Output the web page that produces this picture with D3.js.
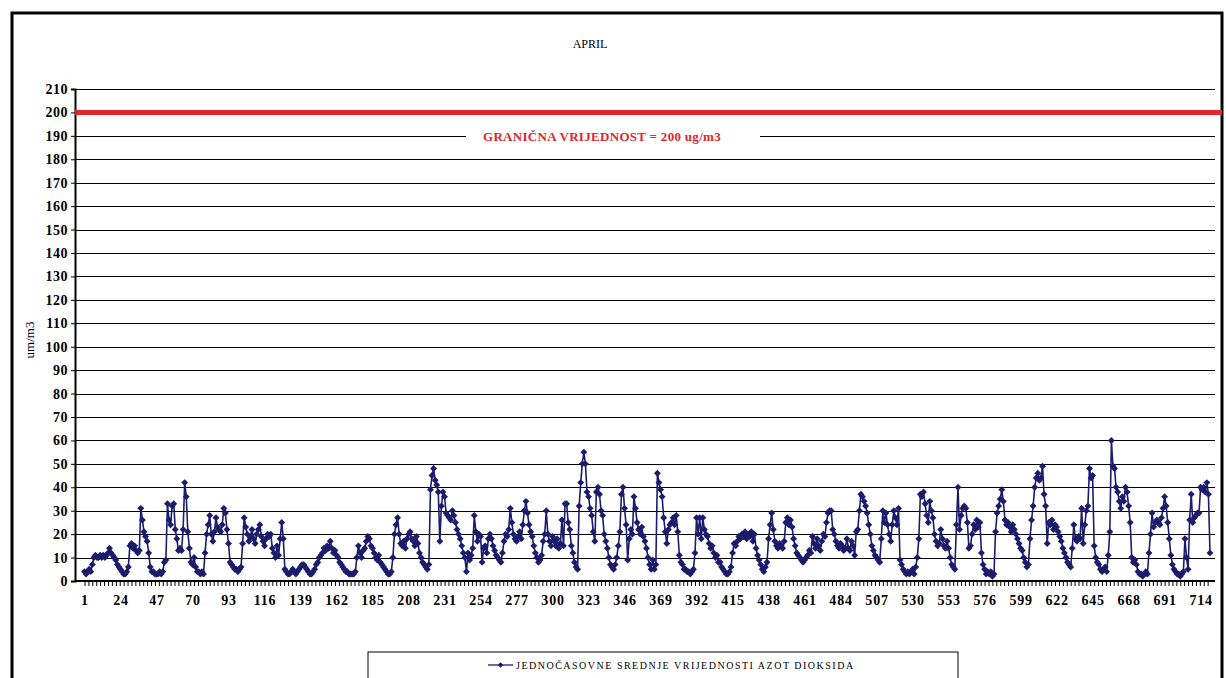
<!DOCTYPE html>
<html>
<head>
<meta charset="utf-8">
<script src="https://cdn.jsdelivr.net/npm/d3@7"></script>
<style>
body { margin: 0; background: #fff; }
svg { display: block; }
</style>
</head>
<body>
<svg width="1226" height="678"></svg>
<script>
var svg = d3.select('svg');

// hourly NO2 values, April (720 hours)
var values = [
4,3,4,5,4,7,10,11,10,10,
11,10,11,10,11,12,14,12,11,10,
9,7,6,5,4,3,3,4,6,15,
16,14,15,13,12,13,31,26,21,19,
17,12,6,4,4,3,3,3,4,3,
4,8,9,33,26,24,32,33,22,18,
13,14,13,22,42,36,21,14,8,7,
10,6,4,4,3,4,3,12,20,24,
28,20,17,21,27,23,22,21,24,31,
29,22,16,8,7,6,5,5,4,5,
6,16,27,23,20,17,19,22,18,16,
20,22,24,19,17,15,18,20,19,20,
14,12,10,15,11,18,25,18,5,4,
3,3,4,5,4,3,4,5,6,7,
7,6,5,4,3,3,4,5,7,8,
10,11,12,14,13,15,14,17,14,12,
13,11,10,8,7,6,5,4,4,3,
3,3,3,4,10,15,12,10,13,14,
17,19,18,15,14,12,10,9,11,8,
7,6,5,4,3,3,4,10,20,24,
27,20,16,15,17,14,18,20,21,18,
17,15,19,16,12,10,8,7,6,5,
7,39,45,48,43,41,38,17,32,38,
36,29,28,27,26,30,28,25,22,20,
18,15,12,10,4,12,9,11,14,28,
21,17,20,19,8,14,15,12,18,20,
18,15,13,11,10,9,8,12,17,20,
19,22,31,25,20,18,17,19,21,18,
24,30,34,29,24,21,19,15,12,10,
8,9,11,17,20,30,20,17,15,19,
17,15,18,14,16,26,15,33,33,25,
22,15,12,8,6,5,32,42,50,55,
50,38,36,31,28,21,17,38,40,37,
30,28,20,17,14,10,7,6,5,7,
10,15,21,37,40,31,24,9,18,22,
20,36,31,25,22,20,23,19,17,14,
10,7,5,9,5,7,46,42,39,36,
27,21,16,22,24,25,27,24,28,21,
11,8,7,5,5,4,4,3,4,5,
12,27,20,27,18,27,22,20,19,16,
14,15,12,10,11,8,8,6,5,4,
3,3,4,6,12,16,15,17,19,18,
20,19,21,18,20,19,21,17,20,14,
11,9,7,5,4,6,8,18,24,29,
22,17,15,14,16,15,14,17,25,27,
24,26,23,18,15,12,11,10,9,8,
9,10,11,13,12,19,16,14,18,15,
13,17,20,19,25,29,30,30,22,20,
17,15,14,16,15,13,14,18,14,13,
17,15,11,21,22,30,37,36,34,32,
29,24,20,15,13,11,10,9,8,18,
30,25,29,24,20,17,24,30,27,24,
31,9,7,5,4,3,4,3,4,5,
3,6,10,18,37,36,38,33,28,25,
34,30,27,20,17,15,16,22,18,15,
14,17,14,10,7,6,5,24,40,22,
28,31,32,31,25,14,15,20,24,22,
26,23,25,12,7,5,3,4,3,4,
2,3,21,29,32,35,39,34,26,24,
25,23,21,24,22,20,18,16,14,13,
10,8,6,7,18,26,32,40,44,46,
43,44,49,37,32,16,25,24,26,22,
24,23,21,19,17,14,12,10,8,7,
6,14,24,18,17,19,18,31,16,24,
30,32,48,44,45,15,10,8,7,5,
4,5,6,4,11,21,60,49,48,40,
38,34,31,36,34,40,38,32,25,10,
8,9,7,4,3,3,2,3,4,3,
12,20,29,23,25,26,25,24,27,31,
36,32,25,18,11,7,5,4,3,3,
2,3,4,18,10,5,26,37,25,27,
28,29,29,40,39,40,38,42,37,12
];

var xTicks = d3.range(1, 720, 23);          // 1, 24, 47 ... 714
var yTicks = d3.range(0, 211, 10);
var limitValue = 200;
var limitLabel = 'GRANIČNA VRIJEDNOST = 200 ug/m3';
var title = 'APRIL';
var yLabel = 'um/m3';
var seriesName = 'JEDNOČASOVNE SREDNJE VRIJEDNOSTI AZOT DIOKSIDA';

var plotLeft = 75, plotRight = 1215;
var scaleX = d3.scaleLinear().domain([1, 720]).range([84.5, 1210]);
var scaleY = d3.scaleLinear().domain([0, 210]).range([581, 89]);

var navy = '#1c1c6c';
var serif = '"Liberation Serif", "DejaVu Serif", serif';

// outer frame
svg.append('rect')
    .attr('x', 12).attr('y', 13)
    .attr('width', 1210).attr('height', 700)
    .attr('fill', 'none')
    .attr('stroke', '#000')
    .attr('stroke-width', 3);

svg.append('text')
    .text(title)
    .attr('x', 590).attr('y', 48)
    .attr('text-anchor', 'middle')
    .attr('font-family', serif)
    .attr('font-size', 12);

// gridlines
svg.append('g')
    .selectAll('line')
    .data(yTicks.filter(function(d){ return d > 0; }))
    .enter()
    .append('line')
    .attr('x1', plotLeft).attr('x2', plotRight)
    .attr('y1', function(d){ return Math.round(scaleY(d)) + 0.5; })
    .attr('y2', function(d){ return Math.round(scaleY(d)) + 0.5; })
    .attr('stroke', '#000')
    .attr('stroke-width', 1.2);

// y axis
var yAxis = svg.append('g')
    .attr('transform', 'translate(' + plotLeft + ',0)')
    .call(d3.axisLeft(scaleY).tickValues(yTicks).tickSize(4).tickPadding(3));
yAxis.select('.domain').attr('stroke-width', 2);
yAxis.selectAll('text')
    .attr('font-family', serif)
    .attr('font-size', 14)
    .attr('font-weight', 'bold')
    .attr('letter-spacing', 0.5)
    .attr('fill', '#000');

// x axis
var xAxis = svg.append('g')
    .attr('transform', 'translate(0,581)')
    .call(d3.axisBottom(scaleX).tickValues(d3.range(1, 721, 2.5)).tickSize(5).tickFormat(''));
xAxis.select('.domain').attr('stroke-width', 2).attr('d', 'M' + plotLeft + ',0H' + plotRight);

var xLabels = svg.append('g')
    .attr('transform', 'translate(0,581)')
    .call(d3.axisBottom(scaleX).tickValues(xTicks).tickSize(0).tickPadding(14));
xLabels.select('.domain').remove();
xLabels.selectAll('text')
    .attr('font-family', serif)
    .attr('font-size', 14)
    .attr('font-weight', 'bold')
    .attr('letter-spacing', 0.8)
    .attr('fill', '#000');

svg.append('text')
    .text(yLabel)
    .attr('transform', 'translate(34,340)rotate(-90)')
    .attr('text-anchor', 'middle')
    .attr('font-family', serif)
    .attr('font-size', 13);

// limit line
svg.append('line')
    .attr('x1', plotLeft).attr('x2', 1222)
    .attr('y1', scaleY(limitValue)).attr('y2', scaleY(limitValue))
    .attr('stroke', '#e5242b')
    .attr('stroke-width', 5);

svg.append('rect')
    .attr('x', 466).attr('y', scaleY(190) - 8)
    .attr('width', 294).attr('height', 16)
    .attr('fill', '#fff');

svg.append('text')
    .text(limitLabel)
    .attr('x', 602).attr('y', scaleY(190) + 5)
    .attr('text-anchor', 'middle')
    .attr('font-family', serif)
    .attr('font-size', 13)
    .attr('font-weight', 'bold')
    .attr('letter-spacing', 0.3)
    .attr('fill', '#e5242b');

// series
var line = d3.line()
    .x(function(d, i){ return scaleX(i + 1); })
    .y(function(d){ return scaleY(d); });

svg.append('path')
    .datum(values)
    .attr('d', line)
    .attr('fill', 'none')
    .attr('stroke', navy)
    .attr('stroke-width', 1.6);

var diamond = d3.symbol().type(d3.symbolSquare).size(24);

svg.append('g')
    .selectAll('path')
    .data(values)
    .enter()
    .append('path')
    .attr('d', diamond)
    .attr('transform', function(d, i){
        return 'translate(' + scaleX(i + 1) + ',' + scaleY(d) + ')rotate(45)';
    })
    .attr('fill', navy);

// legend
svg.append('rect')
    .attr('x', 368).attr('y', 652)
    .attr('width', 590).attr('height', 40)
    .attr('fill', '#fff')
    .attr('stroke', '#000')
    .attr('stroke-width', 1);

svg.append('line')
    .attr('x1', 488).attr('x2', 513)
    .attr('y1', 665).attr('y2', 665)
    .attr('stroke', navy)
    .attr('stroke-width', 1.3);

svg.append('path')
    .attr('d', d3.symbol().type(d3.symbolSquare).size(16))
    .attr('transform', 'translate(500.5,665)rotate(45)')
    .attr('fill', navy);

svg.append('text')
    .text(seriesName)
    .attr('x', 516).attr('y', 669)
    .attr('font-family', serif)
    .attr('font-size', 10)
    .attr('letter-spacing', 1.5)
    .attr('fill', '#000');
</script>
</body>
</html>
